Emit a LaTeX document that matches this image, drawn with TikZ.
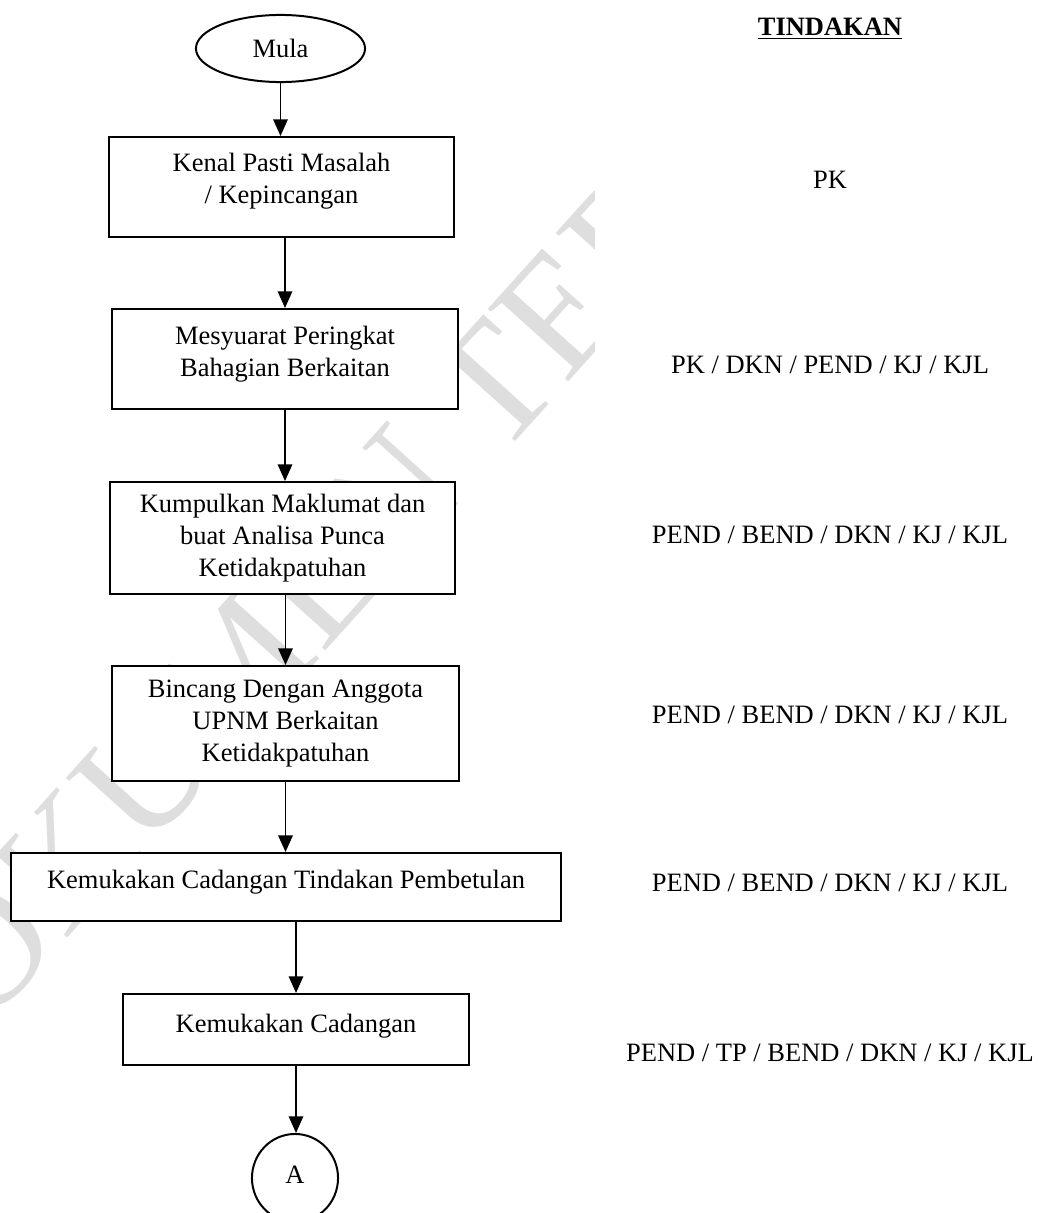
\documentclass[tikz,border=0pt]{standalone}
\usepackage{fontspec}
\setmainfont{Liberation Serif}
\usetikzlibrary{shapes.geometric,arrows.meta}
\tikzset{
  langkah/.style={draw, line width=0.9pt, fill=white, align=center,
    font=\fontsize{12}{14.5}\selectfont, inner sep=0pt},
  tindakan/.style={anchor=base, font=\fontsize{12}{14.5}\selectfont},
  anak/.style={-{Triangle[width=6.5pt,length=7.5pt]}, line width=0.8pt},
  tera/.style={text=black!13, font=\fontsize{75}{75}\selectfont, rotate=48,
    anchor=west, inner sep=0pt}
}
\begin{document}
\begin{tikzpicture}[x=0.453pt, y=-0.453pt]
      \useasboundingbox (0,0) rectangle (1038,1213);

      % tera air
      \node[tera] (wm) at (-56,995) {OKUMEN TER};
      \fill[white] (595,6) rectangle (1038,1213);

      % carta alir
      \node[langkah, ellipse, minimum width=76.6pt, minimum height=30.4pt] (mula) at (280.5,48.5) {Mula};
      \node[langkah, minimum width=156.3pt, minimum height=45.3pt, text depth=8.3pt] (b1) at (281.5,187) {Kenal Pasti Masalah\\/ Kepincangan};
      \node[langkah, minimum width=156.7pt, minimum height=45.3pt, text depth=7.3pt] (b2) at (285,359) {Mesyuarat Peringkat\\Bahagian Berkaitan};
      \node[langkah, minimum width=156.3pt, minimum height=50.7pt] (b3) at (282.5,538) {Kumpulkan Maklumat dan\\buat Analisa Punca\\Ketidakpatuhan};
      \node[langkah, minimum width=157.2pt, minimum height=52.1pt] (b4) at (285.5,723.5) {Bincang Dengan Anggota\\UPNM Berkaitan\\Ketidakpatuhan};
      \node[langkah, minimum width=249.2pt, minimum height=30.8pt, text depth=7.3pt] (b5) at (286,887) {Kemukakan Cadangan Tindakan Pembetulan};
      \node[langkah, minimum width=156.7pt, minimum height=32.2pt, text depth=6pt] (b6) at (296,1029.5) {Kemukakan Cadangan};
      \node[langkah, ellipse, minimum width=39pt, minimum height=39.9pt, text depth=3pt] (a) at (295,1178) {A};

      \draw[anak] (mula.south) -- (mula.south |- b1.north);
      \draw[anak] (b2.north |- b1.south) -- (b2.north);
      \draw[anak] (b2.south) -- (b2.south |- b3.north);
      \draw[anak] (b4.north |- b3.south) -- (b4.north);
      \draw[anak] (b4.south) -- (b4.south |- b5.north);
      \draw[anak] (b6.north |- b5.south) -- (b6.north);
      \draw[anak] (b6.south) -- (b6.south |- a.north);

      % tindakan
      \node[tindakan] (tajuk) at (830,35) {\underline{\textbf{TINDAKAN}}};
      \node[tindakan] (t1) at (830,188) {PK};
      \node[tindakan] (t2) at (830,373) {PK / DKN / PEND / KJ / KJL};
      \node[tindakan] (t3) at (830,543) {PEND / BEND / DKN / KJ / KJL};
      \node[tindakan] (t4) at (830,723) {PEND / BEND / DKN / KJ / KJL};
      \node[tindakan] (t5) at (830,891) {PEND / BEND / DKN / KJ / KJL};
      \node[tindakan] (t6) at (830,1061) {PEND / TP / BEND / DKN / KJ / KJL};
\end{tikzpicture}
\end{document}
